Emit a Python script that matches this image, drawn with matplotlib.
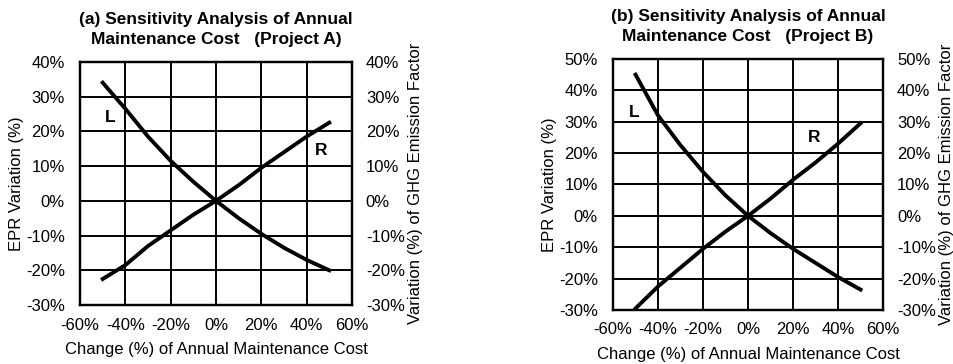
import numpy as np
import matplotlib.pyplot as plt
from matplotlib.ticker import PercentFormatter

plt.rcParams['font.family'] = ['Liberation Sans', 'DejaVu Sans']
plt.rcParams['axes.unicode_minus'] = False

# change in annual maintenance cost (%)
change = [-50, -40, -30, -20, -10, 0, 10, 20, 30, 40, 50]

# Project A
epr_a = [34, 26.5, 18.5, 11.5, 5.5, 0, -5, -9.5, -13.5, -17, -20]
ghg_a = [-22.5, -18.5, -13, -8.5, -4, 0, 4.5, 9.5, 14, 18.5, 22.5]

# Project B
epr_b = [45, 32, 22.5, 14, 6.5, 0, -5.5, -10.5, -15, -19.5, -23.5]
ghg_b = [-29.5, -22.5, -16.5, -10.5, -5, 0, 5.5, 11.5, 17, 23, 29.5]

titles = ["(a) Sensitivity Analysis of Annual\nMaintenance Cost   (Project A)",
          "(b) Sensitivity Analysis of Annual\nMaintenance Cost   (Project B)"]

fig = plt.figure(figsize=(9.54, 3.64), dpi=100)

panels = [
    dict(rect=[0.0839, 0.162, 0.285, 0.668], ylim=(-30, 40), L=epr_a, R=ghg_a,
         title=titles[0], Lpos=(-46.5, 24), Rpos=(46.5, 14.5)),
    dict(rect=[0.6426, 0.1484, 0.283, 0.6896], ylim=(-30, 50), L=epr_b, R=ghg_b,
         title=titles[1], Lpos=(-50.5, 33), Rpos=(29.5, 25)),
]

for p in panels:
    ax = fig.add_axes(p['rect'])
    ax.plot(change, p['L'], color='black', lw=2.8)
    ax.plot(change, p['R'], color='black', lw=2.8)
    ax.set_xlim(-60, 60)
    ax.set_ylim(*p['ylim'])
    ax.set_xticks(np.arange(-60, 61, 20))
    yt = np.arange(p['ylim'][0], p['ylim'][1] + 1, 10)
    ax.set_yticks(yt)
    ax.xaxis.set_major_formatter(PercentFormatter(decimals=0))
    ax.yaxis.set_major_formatter(PercentFormatter(decimals=0))
    ax.grid(True, color='black', lw=1.4)
    ax.set_axisbelow(True)
    for s in ax.spines.values():
        s.set_linewidth(1.6)
    ax.tick_params(axis='x', length=0, labelsize=12, pad=9)
    ax.tick_params(axis='y', length=0, labelsize=12, pad=11)
    ax.set_xlabel("Change (%) of Annual Maintenance Cost", fontsize=12, labelpad=7)
    ax.set_ylabel("EPR Variation (%)", fontsize=12, labelpad=1)
    ax.set_title(p['title'], fontsize=12.5, fontweight='bold', pad=13, linespacing=1.4)
    ax.text(*p['Lpos'], "L", fontsize=12.5, fontweight='bold', ha='center', va='center')
    ax.text(*p['Rpos'], "R", fontsize=12.5, fontweight='bold', ha='center', va='center')

    ax2 = ax.twinx()
    ax2.set_ylim(*p['ylim'])
    ax2.set_yticks(yt)
    ax2.yaxis.set_major_formatter(PercentFormatter(decimals=0))
    ax2.tick_params(length=0, labelsize=12, pad=10)
    ax2.set_ylabel("Variation (%) of GHG Emission Factor", fontsize=12, labelpad=2)
    for s in ax2.spines.values():
        s.set_linewidth(1.6)

fig.savefig("out.png", dpi=100)
